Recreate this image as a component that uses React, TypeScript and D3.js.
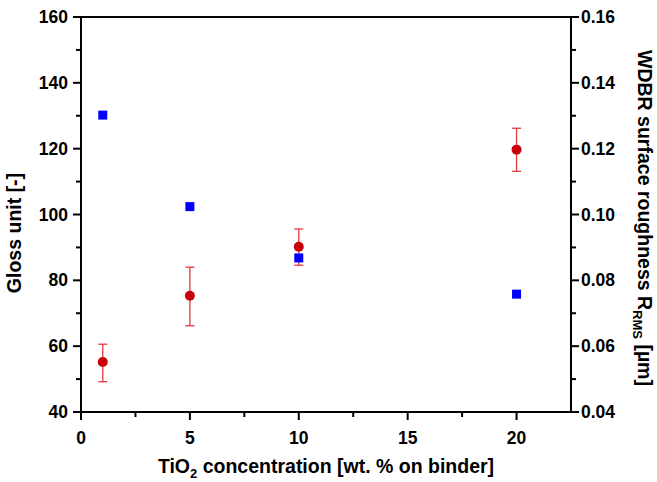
import React from "react";
import * as d3 from "d3";

const concentrations = [1, 5, 10, 20];
const glossValues = [130.2, 102.4, 86.8, 75.8];
const roughnessValues = [0.0552, 0.0753, 0.0902, 0.1197];
const roughnessErrLow = [0.0492, 0.0662, 0.0846, 0.1131];
const roughnessErrHigh = [0.0606, 0.0840, 0.0956, 0.1262];
const xTicks = [0, 5, 10, 15, 20];
const yLeftTicks = [40, 60, 80, 100, 120, 140, 160];
const yRightTicks = [0.04, 0.06, 0.08, 0.1, 0.12, 0.14, 0.16];

const W = 657;
const H = 482;
const M = { left: 81, right: 571, top: 17, bottom: 412 };
const FONT = "Liberation Sans, Arial, sans-serif";

export default function App() {
  const x = d3.scaleLinear().domain([0, 22.5]).range([M.left, M.right]);
  const yL = d3.scaleLinear().domain([40, 160]).range([M.bottom, M.top]);
  const yR = d3.scaleLinear().domain([0.04, 0.16]).range([M.bottom, M.top]);
  const xMinor = d3.range(2.5, 22.5, 5);
  const yLMinor = d3.range(50, 160, 20);
  const yRMinor = d3.range(0.05, 0.16, 0.02);
  const red = "#c8000a";
  const errRed = "#e0393c";
  const blue = "#0000ff";
  return (
    <svg width={W} height={H} style={{ position: "absolute", left: 0, top: 0 }}>
      <rect width={W} height={H} fill="white" />
      <g stroke="black" strokeWidth={2} fill="none">
        <line x1={M.left} x2={M.right} y1={M.top} y2={M.top} />
        <line x1={M.left} x2={M.right} y1={M.bottom} y2={M.bottom} />
        <line x1={M.left} x2={M.left} y1={M.top} y2={M.bottom} />
        <line x1={M.right} x2={M.right} y1={M.top} y2={M.bottom} />
        {xTicks.map((t) => (
          <line key={"xt" + t} x1={x(t)} x2={x(t)} y1={M.bottom} y2={M.bottom + 8} />
        ))}
        {xMinor.map((t) => (
          <line key={"xm" + t} x1={x(t)} x2={x(t)} y1={M.bottom} y2={M.bottom + 5} />
        ))}
        {yLeftTicks.map((t) => (
          <line key={"yl" + t} x1={M.left - 8} x2={M.left} y1={yL(t)} y2={yL(t)} />
        ))}
        {yLMinor.map((t) => (
          <line key={"ylm" + t} x1={M.left - 5} x2={M.left} y1={yL(t)} y2={yL(t)} />
        ))}
        {yRightTicks.map((t) => (
          <line key={"yr" + t} x1={M.right} x2={M.right + 8} y1={yR(t)} y2={yR(t)} />
        ))}
        {yRMinor.map((t) => (
          <line key={"yrm" + t} x1={M.right} x2={M.right + 5} y1={yR(t)} y2={yR(t)} />
        ))}
      </g>
      <g fontFamily={FONT} fontWeight="bold" fontSize={17.5} fill="black">
        {xTicks.map((t) => (
          <text key={"xl" + t} x={x(t)} y={M.bottom + 32} textAnchor="middle">
            {t}
          </text>
        ))}
        {yLeftTicks.map((t) => (
          <text key={"yll" + t} x={M.left - 13} y={yL(t) + 6} textAnchor="end">
            {t}
          </text>
        ))}
        {yRightTicks.map((t) => (
          <text key={"yrl" + t} x={M.right + 10} y={yR(t) + 6} textAnchor="start">
            {t.toFixed(2)}
          </text>
        ))}
      </g>
      <g fontFamily={FONT} fontWeight="bold" fontSize={19.5} fill="black">
        <text x={(M.left + M.right) / 2} y={473} textAnchor="middle">
          TiO<tspan fontSize={13} dy={5}>2</tspan>
          <tspan dy={-5}> concentration [wt. % on binder]</tspan>
        </text>
        <text transform={`translate(21, 233) rotate(-90)`} textAnchor="middle">
          Gloss unit [-]
        </text>
        <text transform={`translate(638, 218) rotate(90)`} textAnchor="middle">
          WDBR surface roughness R<tspan fontSize={13} dy={5}>RMS</tspan>
          <tspan dy={-5}> [µm]</tspan>
        </text>
      </g>
      <g stroke={errRed} strokeWidth={1.3}>
        {concentrations.map((c, i) => (
          <g key={"e" + i}>
            <line x1={x(c)} x2={x(c)} y1={yR(roughnessErrLow[i])} y2={yR(roughnessErrHigh[i])} />
            <line x1={x(c) - 4.5} x2={x(c) + 4.5} y1={yR(roughnessErrLow[i])} y2={yR(roughnessErrLow[i])} />
            <line x1={x(c) - 4.5} x2={x(c) + 4.5} y1={yR(roughnessErrHigh[i])} y2={yR(roughnessErrHigh[i])} />
          </g>
        ))}
      </g>
      {concentrations.map((c, i) => (
        <rect key={"s" + i} x={x(c) - 4.5} y={yL(glossValues[i]) - 4.5} width={9} height={9} fill={blue} />
      ))}
      {concentrations.map((c, i) => (
        <circle key={"c" + i} cx={x(c)} cy={yR(roughnessValues[i])} r={5} fill={red} />
      ))}
    </svg>
  );
}
